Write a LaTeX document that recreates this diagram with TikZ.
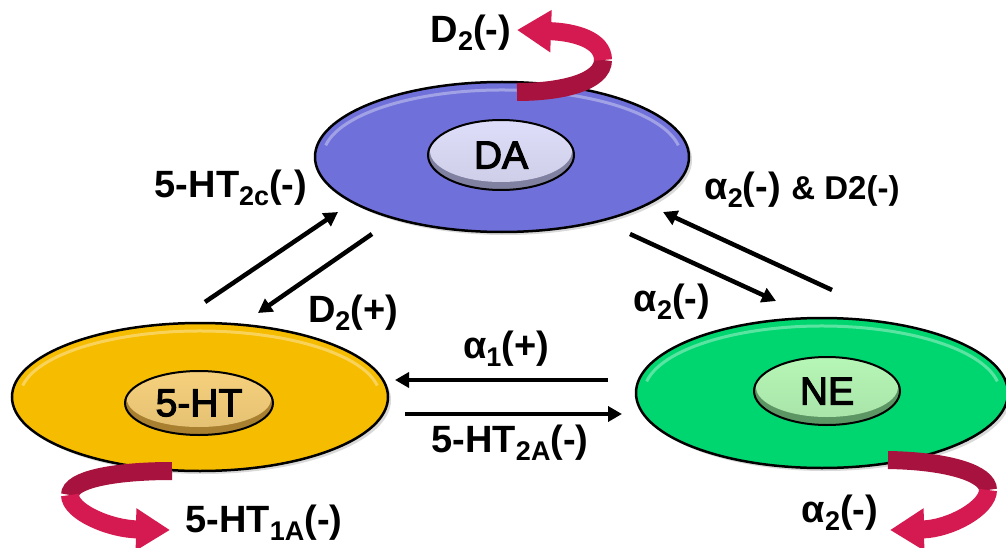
\documentclass[tikz,border=0pt]{standalone}
\usepackage{fontspec}
\setmainfont{Liberation Sans}
\newfontfamily\corefont{Liberation Sans}[FakeBold=3]
\usetikzlibrary{arrows.meta,shapes.geometric,shadows}
\definecolor{daC}{RGB}{112,112,218}
\definecolor{htC}{RGB}{246,188,0}
\definecolor{neC}{RGB}{0,214,112}
\definecolor{ribDark}{RGB}{168,18,62}
\definecolor{ribBright}{RGB}{212,26,80}
\definecolor{daRim}{RGB}{128,128,160}
\definecolor{daLight}{RGB}{222,222,250}
\definecolor{htRim}{RGB}{168,128,48}
\definecolor{htLight}{RGB}{246,208,124}
\definecolor{neRim}{RGB}{92,150,100}
\definecolor{neLight}{RGB}{182,246,182}
\newcommand\mysub[1]{\raisebox{-0.2em}{\fontsize{27}{27}\selectfont #1}}
\begin{document}
\begin{tikzpicture}[x=1pt,y=-1pt,
  cell/.style={ellipse, draw=black, line width=2.5pt, inner sep=0pt,
    drop shadow={opacity=0.3,shadow xshift=3pt,shadow yshift=-3pt}},
  core/.style={ellipse, draw=black, line width=2pt, inner sep=0pt,
    font=\fontsize{39}{39}\corefont},
  lab/.style={font=\fontsize{38}{40}\selectfont\bfseries, inner sep=0pt},
  link/.style={line width=4.5pt, -{Triangle[width=15pt,length=14pt]}},
  shine/.style={white, opacity=0.35, line width=3pt},
  ribA/.style={line width=18pt, draw=ribDark},
  ribB/.style={line width=18pt, draw=ribBright, -{Triangle[width=40pt,length=34pt]}}]
\useasboundingbox (0,0) rectangle (1006,548);

% cells
\node[cell, fill=daC, minimum width=374pt, minimum height=150pt] (da) at (502,157) {};
\node[cell, fill=htC, minimum width=376pt, minimum height=148pt] (ht) at (200,397) {};
\node[cell, fill=neC, minimum width=372pt, minimum height=150pt] (ne) at (822,393) {};
\draw[shine] (da.center) ++(190:179 and 67) arc[start angle=190, end angle=350, x radius=179, y radius=67];
\draw[shine] (ht.center) ++(190:180 and 66) arc[start angle=190, end angle=350, x radius=180, y radius=66];
\draw[shine] (ne.center) ++(190:178 and 67) arc[start angle=190, end angle=350, x radius=178, y radius=67];

% cores
\node[core, fill=daRim, minimum width=146pt, minimum height=70pt,
  path picture={\shade[top color=daLight, bottom color=daLight!92!black] ([yshift=4pt]path picture bounding box.center) ellipse (71 and 31);}] (dacore) at (501,155) {DA};
\node[core, fill=htRim, minimum width=148pt, minimum height=64pt,
  path picture={\shade[top color=htLight, bottom color=htLight!92!black] ([yshift=4pt]path picture bounding box.center) ellipse (72 and 28);}] (htcore) at (199,403) {5-HT};
\node[core, fill=neRim, minimum width=146pt, minimum height=68pt,
  path picture={\shade[top color=neLight, bottom color=neLight!92!black] ([yshift=4pt]path picture bounding box.center) ellipse (71 and 30);}] (necore) at (827,391) {NE};

% connector end points
\coordinate (p1s) at (205,302); \coordinate (p1e) at (338,212);
\coordinate (p2s) at (372,234); \coordinate (p2e) at (258,313);
\coordinate (p3s) at (630,234); \coordinate (p3e) at (776,301);
\coordinate (p4s) at (832,290); \coordinate (p4e) at (663,212);
\coordinate (p5s) at (608,380); \coordinate (p5e) at (395,380);
\coordinate (p6s) at (405,414); \coordinate (p6e) at (622,414);

\draw[link] (p1s) -- (p1e);
\draw[link] (p2s) -- (p2e);
\draw[link] (p3s) -- (p3e);
\draw[link] (p4s) -- (p4e);
\draw[link] (p5s) -- (p5e);
\draw[link] (p6s) -- (p6e);

% self-loop ribbons
\coordinate (r1s) at (517,92); \coordinate (r1m) at (603,60); \coordinate (r1t) at (517,30);
\draw[ribA] (r1s) .. controls (562,92) and (603,82) .. (r1m);
\draw[ribB] (r1m) .. controls (603,40) and (575,32) .. (r1t);

\coordinate (r2s) at (172,471); \coordinate (r2m) at (70,495); \coordinate (r2t) at (170,530);
\draw[ribA] (r2s) .. controls (112,471) and (70,480) .. (r2m);
\draw[ribB] (r2m) .. controls (70,512) and (110,529) .. (r2t);

\coordinate (r3s) at (888,460); \coordinate (r3m) at (988,490); \coordinate (r3t) at (890,530);
\draw[ribA] (r3s) .. controls (950,461) and (988,474) .. (r3m);
\draw[ribB] (r3m) .. controls (988,508) and (950,529) .. (r3t);

% labels
\node[lab] (l1) at (471,33) {D\mysub{2}(-)};
\node[lab] (l2) at (231,188) {5-HT\mysub{2c}(-)};
\node[lab] (l3) at (802,190) {α\mysub{2}(-) {\fontsize{33}{35}\selectfont \& D2(-)}};
\node[lab] (l4) at (353,313) {D\mysub{2}(+)};
\node[lab] (l5) at (672,302) {α\mysub{2}(-)};
\node[lab] (l6) at (506,349) {α\mysub{1}(+)};
\node[lab] (l7) at (510,443) {5-HT\mysub{2A}(-)};
\node[lab] (l8) at (264,523) {5-HT\mysub{1A}(-)};
\node[lab] (l9) at (840,513) {α\mysub{2}(-)};
\end{tikzpicture}
\end{document}
